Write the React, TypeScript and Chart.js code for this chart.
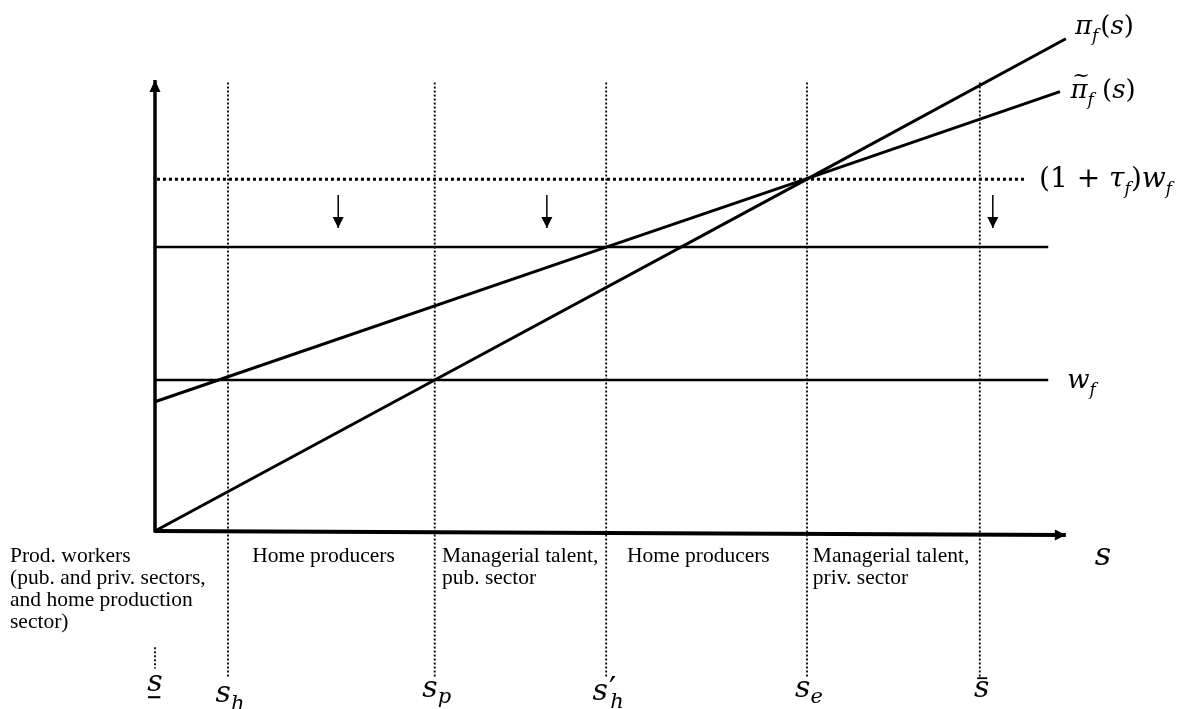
import { useEffect, useRef } from "react";
import { Chart, registerables } from "chart.js";

Chart.register(...registerables);

// ---------- data (talent s on x, payoff on y; w_f = 1) ----------
const thresholdKeys = ["sLow", "sH", "sP", "sH2", "sE", "sBar"];
const thresholdValues = [0, 11.2, 42.9, 69.2, 100, 126.5];

const piS = [0, 42.9, 100, 139.7];
const piValues = [0, 1.0, 2.33, 3.26];

const piTildeS = [0, 69.2, 100, 138.8];
const piTildeValues = [0.856, 1.88, 2.334, 2.91];

const wageLevel = 1.0; // w_f
const taxedWageLevel = 2.33; // (1 + tau_f) w_f
const loweredLevel = 1.88; // lowered threshold line
const lineEndS = 137;
const dottedEndS = 133.7;

const arrowS = [28.1, 60.1, 128.5];
const arrowFrom = 2.225;
const arrowTo = 2.007;

const verticalTop = 2.97;
const verticalBottom = -0.967;
const sLowMarkTop = -0.77;
const sLowMarkBottom = -0.91;

const yAxisTop = 2.987;
const xAxisEndS = 139.7;
const xAxisEndDrop = -0.027;

const regionTexts = [
  ["Prod. workers", "(pub. and priv. sectors,", "and home production", "sector)"],
  ["Home producers"],
  ["Managerial talent,", "pub. sector"],
  ["Home producers"],
  ["Managerial talent,", "priv. sector"],
];
const regionTextS = [-22.24, 14.9, 44.0, 72.4, 100.9];
const regionTextY = -0.205;

// ---------- layout ----------
const W = 1185;
const H = 709;
const ORIGIN_X = 155;
const ORIGIN_Y = 531;
const PX_PER_S = 6.52;
const PX_PER_Y = 151;

type Seg = { t: string; f?: "i" | "r"; s?: number; dy?: number; dx?: number; acc?: "tilde" | "bar" | "under" };

const MATH_FONT = "'DejaVu Serif'";

function segFont(seg: Seg, base: number) {
  const size = seg.s ?? base;
  return `${seg.f === "r" ? "" : "italic "}${size}px ${MATH_FONT}`;
}

function drawMath(ctx: CanvasRenderingContext2D, segs: Seg[], x: number, y: number, base: number, align: "left" | "center") {
  let total = 0;
  const widths: number[] = [];
  for (const seg of segs) {
    ctx.font = segFont(seg, base);
    const w = ctx.measureText(seg.t).width + (seg.dx ?? 0);
    widths.push(w);
    total += w;
  }
  let cx = align === "center" ? x - total / 2 : x;
  segs.forEach((seg, i) => {
    const size = seg.s ?? base;
    ctx.font = segFont(seg, base);
    const by = y + (seg.dy ?? 0);
    ctx.fillText(seg.t, cx + (seg.dx ?? 0), by);
    const w = widths[i];
    if (seg.acc === "tilde") {
      ctx.font = `${Math.round(size * 0.8)}px ${MATH_FONT}`;
      const tw = ctx.measureText("~").width;
      ctx.fillText("~", cx + w / 2 - tw / 2 + size * 0.08, by - size * 0.62);
    } else if (seg.acc === "bar") {
      ctx.fillRect(cx + w * 0.2, by - size * 0.66, w * 0.65, Math.max(1.5, size * 0.06));
    } else if (seg.acc === "under") {
      ctx.fillRect(cx + w * 0.05, by + size * 0.17, w * 0.8, Math.max(1.5, size * 0.07));
    }
    cx += w;
  });
}

const S_MAIN = 30;
const S_SUB = 21;
const bottomMath: Seg[][] = [
  [{ t: "s", acc: "under" }],
  [{ t: "s" }, { t: "h", s: S_SUB, dy: 8 }],
  [{ t: "s" }, { t: "p", s: S_SUB, dy: 6 }],
  [{ t: "s" }, { t: "\u2032", f: "r", s: 32, dy: -1, dx: 1 }, { t: "h", s: S_SUB, dy: 8, dx: -6 }],
  [{ t: "s" }, { t: "e", s: S_SUB, dy: 6 }],
  [{ t: "s", acc: "bar" }],
];
const bottomMathY = [-1.06, -1.13, -1.1, -1.12, -1.1, -1.1];

const T = 26;
const TS = 17;
const curveLabels: { segs: Seg[]; s: number; y: number; size: number }[] = [
  { segs: [{ t: "\u03c0" }, { t: "f", s: TS, dy: 7 }, { t: "(", f: "r", dx: 2 }, { t: "s" }, { t: ")", f: "r" }], s: 141.1, y: 3.291, size: T },
  { segs: [{ t: "\u03c0", acc: "tilde" }, { t: "f", s: TS, dy: 7 }, { t: " (", f: "r" }, { t: "s" }, { t: ")", f: "r" }], s: 140.4, y: 2.868, size: T },
  { segs: [{ t: "(1 + ", f: "r" }, { t: "\u03c4" }, { t: "f", s: TS, dy: 7 }, { t: ")", f: "r" }, { t: "w" }, { t: "f", s: TS, dy: 7 }], s: 135.6, y: 2.28, size: 28 },
  { segs: [{ t: "w" }, { t: "f", s: TS, dy: 7 }], s: 139.9, y: 0.947, size: T },
];

const axisLabel: Seg[] = [{ t: "s", s: 32 }];
const axisLabelS = 145.4;
const axisLabelY = -0.225;

function line(points: { x: number; y: number }[], width: number, dash: number[] = [], extra: any = {}) {
  return {
    data: points,
    showLine: true,
    borderColor: "#000",
    backgroundColor: "#000",
    borderWidth: width,
    borderDash: dash,
    pointRadius: 0,
    pointHoverRadius: 0,
    tension: 0,
    fill: false,
    ...extra,
  };
}

const arrowPlugin = {
  id: "arrowHeads",
  afterDatasetsDraw(chart: any) {
    const ctx = chart.ctx;
    chart.data.datasets.forEach((ds: any, i: number) => {
      if (!ds.arrowHead) return;
      const pts = chart.getDatasetMeta(i).data;
      const a = pts[pts.length - 2];
      const b = pts[pts.length - 1];
      const ang = Math.atan2(b.y - a.y, b.x - a.x);
      const L = ds.arrowHead.len;
      const hw = ds.arrowHead.half;
      ctx.save();
      ctx.fillStyle = "#000";
      ctx.translate(b.x, b.y);
      ctx.rotate(ang);
      ctx.beginPath();
      ctx.moveTo(0, 0);
      ctx.lineTo(-L, -hw);
      ctx.lineTo(-L, hw);
      ctx.closePath();
      ctx.fill();
      ctx.restore();
    });
  },
};

const textPlugin = {
  id: "diagramText",
  afterDatasetsDraw(chart: any) {
    const ctx: CanvasRenderingContext2D = chart.ctx;
    const xs = chart.scales.x;
    const ys = chart.scales.y;
    ctx.save();
    ctx.fillStyle = "#000";
    ctx.textBaseline = "alphabetic";
    // region texts
    ctx.font = "21.5px 'Liberation Serif'";
    regionTexts.forEach((lines, i) => {
      const px = xs.getPixelForValue(regionTextS[i]);
      const py = ys.getPixelForValue(regionTextY);
      lines.forEach((l, j) => ctx.fillText(l, px, py + j * 22));
    });
    // bottom threshold labels
    bottomMath.forEach((segs, i) => {
      drawMath(ctx, segs, xs.getPixelForValue(thresholdValues[i]) + (i === 0 ? 0 : 2), ys.getPixelForValue(bottomMathY[i]), S_MAIN, "center");
    });
    // curve labels
    curveLabels.forEach((c) => drawMath(ctx, c.segs, xs.getPixelForValue(c.s), ys.getPixelForValue(c.y), c.size, "left"));
    drawMath(ctx, axisLabel, xs.getPixelForValue(axisLabelS), ys.getPixelForValue(axisLabelY), 32, "center");
    ctx.restore();
  },
};

export default function App() {
  const ref = useRef<HTMLCanvasElement | null>(null);

  useEffect(() => {
    if (!ref.current) return;
    const datasets: any[] = [];
    // axes
    datasets.push(line([{ x: 0, y: -0.01 }, { x: 0, y: yAxisTop }], 3.5, [], { arrowHead: { len: 12, half: 5.5 } }));
    datasets.push(line([{ x: -0.1, y: 0 }, { x: xAxisEndS, y: xAxisEndDrop }], 4, [], { arrowHead: { len: 11, half: 5.5 } }));
    // vertical dotted thresholds (lower bound only a short mark)
    thresholdValues.forEach((s, i) => {
      if (thresholdKeys[i] === "sLow") {
        datasets.push(line([{ x: s, y: sLowMarkTop }, { x: s, y: sLowMarkBottom }], 1.8, [2, 2]));
      } else {
        datasets.push(line([{ x: s, y: verticalTop }, { x: s, y: verticalBottom }], 1.8, [2, 2]));
      }
    });
    // horizontal lines
    datasets.push(line([{ x: 0.3, y: taxedWageLevel }, { x: dottedEndS, y: taxedWageLevel }], 3, [3, 3]));
    datasets.push(line([{ x: 0, y: loweredLevel }, { x: lineEndS, y: loweredLevel }], 2.5));
    datasets.push(line([{ x: 0, y: wageLevel }, { x: lineEndS, y: wageLevel }], 2.5));
    // profit curves
    datasets.push(line(piS.map((s, i) => ({ x: s, y: piValues[i] })), 3));
    datasets.push(line(piTildeS.map((s, i) => ({ x: s, y: piTildeValues[i] })), 3));
    // downward arrows
    arrowS.forEach((s) => {
      datasets.push(line([{ x: s, y: arrowFrom }, { x: s, y: arrowTo }], 1.5, [], { arrowHead: { len: 11, half: 5.5 } }));
    });

    const chart = new Chart(ref.current, {
      type: "scatter",
      data: { datasets },
      options: {
        animation: false,
        responsive: false,
        devicePixelRatio: 1,
        layout: { padding: 0 },
        plugins: { legend: { display: false }, tooltip: { enabled: false } },
        events: [],
        scales: {
          x: { type: "linear", display: false, min: -ORIGIN_X / PX_PER_S, max: (W - ORIGIN_X) / PX_PER_S },
          y: { type: "linear", display: false, min: -(H - ORIGIN_Y) / PX_PER_Y, max: ORIGIN_Y / PX_PER_Y },
        },
      },
      plugins: [arrowPlugin, textPlugin],
    });
    return () => chart.destroy();
  }, []);

  return (
    <div style={{ position: "absolute", left: 0, top: 0, width: W, height: H, background: "#fff" }}>
      <canvas ref={ref} width={W} height={H} style={{ display: "block", width: W, height: H }} />
    </div>
  );
}
